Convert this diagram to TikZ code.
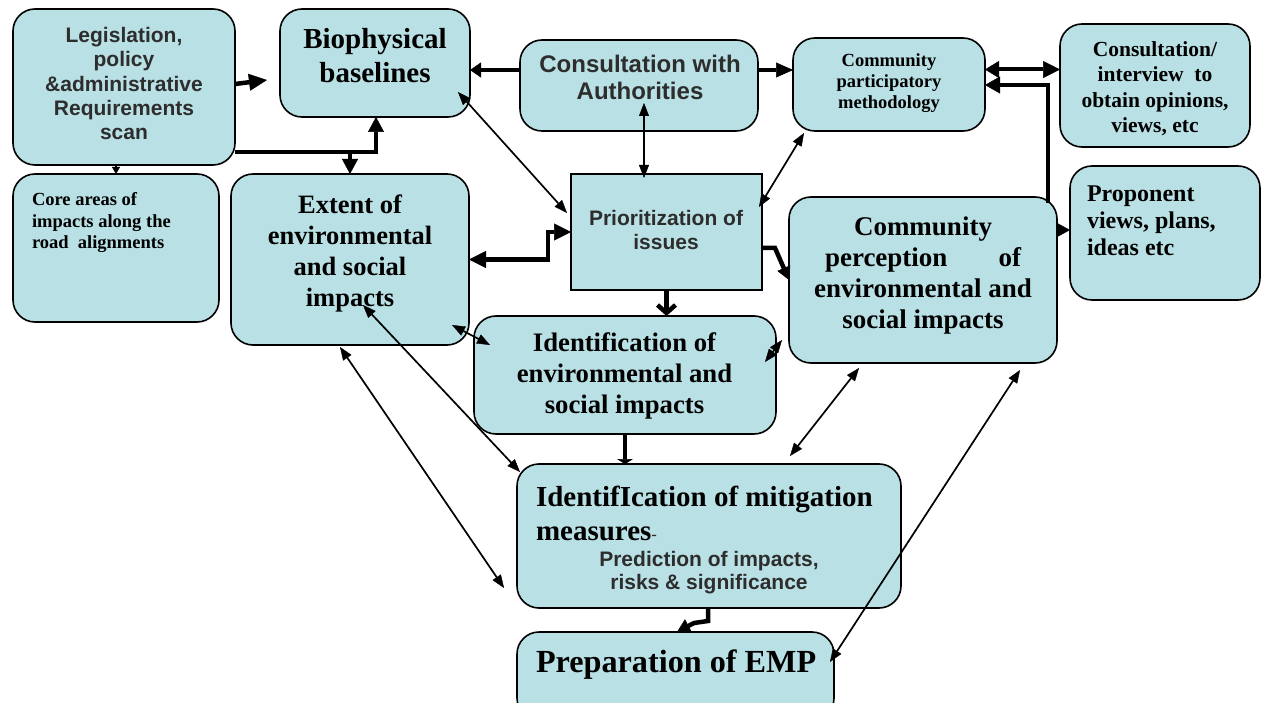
\documentclass[tikz,border=0pt]{standalone}
\usepackage{fontspec}
\setmainfont{Liberation Serif}
\setsansfont{Liberation Sans}
\usetikzlibrary{arrows.meta,calc}
\definecolor{boxc}{RGB}{185,224,228}
\definecolor{sanstext}{RGB}{45,45,45}
\newcommand{\fsz}[2]{\fontsize{#1}{#2}\selectfont}
\tikzset{
  SmT/.tip={Triangle[length=13pt,width=10pt,line width=0.4pt]},
}
\begin{document}
\begin{tikzpicture}[x=1pt,y=-1pt,
  box/.style={draw=black,line width=1.6pt,fill=boxc,rounded corners=22pt,inner sep=0pt,outer sep=0pt},
  sqbox/.style={draw=black,line width=1.6pt,fill=boxc,inner sep=0pt,outer sep=0pt},
  txt/.style={inner sep=0pt,outer sep=0pt,align=center,execute at begin node=\strut},
  ltxt/.style={txt,align=left},
  fat/.style={line width=4.5pt,draw=black},
  lnk/.style={line width=1.7pt,draw=black,arrows={SmT-SmT}}
]
\useasboundingbox (0,0) rectangle (1261,703);
\clip (0,0) rectangle (1261,703);
% boxes
\node[box,minimum width=222pt,minimum height=156pt] (leg) at (124,87) {};
\node[box,minimum width=190pt,minimum height=108pt] (bio) at (375,63) {};
\node[box,minimum width=238pt,minimum height=91pt] (cwa) at (639,85.5) {};
\node[box,minimum width=192pt,minimum height=93pt] (cpm) at (889,84.5) {};
\node[box,minimum width=190pt,minimum height=123pt] (civ) at (1155,85.5) {};
\node[box,minimum width=206pt,minimum height=148pt] (core) at (116,248) {};
\node[box,minimum width=238pt,minimum height=171pt] (ext) at (350,259.5) {};
\node[sqbox,minimum width=191pt,minimum height=116pt] (pri) at (666.5,232) {};
\node[box,minimum width=190pt,minimum height=134pt] (prop) at (1165,233) {};
\node[box,minimum width=268pt,minimum height=166pt] (cpe) at (923,280) {};
\node[box,minimum width=302pt,minimum height=118pt] (ies) at (625,375) {};
\node[box,minimum width=384pt,minimum height=144pt] (mit) at (709,536) {};
\node[box,minimum width=317pt,minimum height=88pt] (emp) at (675.5,676) {};
% texts
\node[txt,font=\sffamily\bfseries\fsz{21}{24.3},text=sanstext,anchor=north] (legT) at (124,27.2) {Legislation,\\policy\\\&administrative\\Requirements\\scan};
\node[txt,font=\bfseries\fsz{29}{34},anchor=north] (bioT) at (375,28.2) {Biophysical\\baselines};
\node[txt,font=\sffamily\bfseries\fsz{24}{27},text=sanstext,anchor=north] (cwaT) at (640,55) {Consultation with\\Authorities};
\node[txt,font=\bfseries\fsz{18.5}{21},anchor=north] (cpmT) at (889,53.8) {Community\\participatory\\methodology};
\node[txt,font=\bfseries\fsz{21.5}{25.5},anchor=north] (civT) at (1155,41.3) {Consultation/\\interview\ \ to\\obtain opinions,\\views, etc};
\node[ltxt,font=\bfseries\fsz{18.5}{21.5},anchor=north west] (coreT) at (32,192.5) {Core areas of\\impacts along the\\road\ \ alignments};
\node[txt,font=\bfseries\fsz{26.5}{31},anchor=north] (extT) at (350,195.3) {Extent of\\environmental\\and social\\impacts};
\node[txt,font=\sffamily\bfseries\fsz{21}{23.5},text=sanstext,anchor=north] (priT) at (666,210.5) {Prioritization of\\issues};
\node[ltxt,font=\bfseries\fsz{24}{27},anchor=north west] (propT) at (1087,185.5) {Proponent\\views, plans,\\ideas etc};
\node[txt,font=\bfseries\fsz{27}{31},anchor=north] (cpeT) at (923,216.3) {Community\\\makebox[196pt][s]{perception\hfill of}\\environmental and\\social impacts};
\node[txt,font=\bfseries\fsz{26.7}{31},anchor=north] (iesT) at (624.5,332.3) {Identification of\\environmental and\\social impacts};
\node[ltxt,font=\bfseries\fsz{29}{34},anchor=north west] (mitT) at (536,486.2) {IdentifIcation of mitigation\\measures{\sffamily\mdseries\fsz{17}{20}\color{sanstext}-}};
\node[txt,font=\sffamily\bfseries\fsz{21}{23},text=sanstext,anchor=north] (mitP) at (709,550.9) {Prediction of impacts,\\risks \& significance};
\node[inner sep=0pt,outer sep=0pt,font=\bfseries\fsz{32.2}{36},anchor=base west] (empT) at (536,672) {Preparation of EMP};
% thick connectors
\draw[fat,-{Triangle[length=18pt,width=17pt,line width=0.5pt]}] ($(leg.east)+(0,-3)$) -- ($(bio.west)+(-13,17)$);
\draw[fat,-{Triangle[length=15pt,width=16pt,line width=0.5pt]}] ($(leg.east)+(0,65)$) -- ($(bio.south)+(1,35)$) -- ($(bio.south)+(1,0)$);
\draw[fat,-{Triangle[length=15pt,width=16pt,line width=0.5pt]}] ($(ext.north)+(0,-24)$) -- (ext.north);
\draw[line width=1.5pt,-{Triangle[length=7pt,width=8pt,line width=0.4pt]}] (core.north |- leg.south) -- (core.north);
\draw[fat,-{Triangle[length=11pt,width=15pt,line width=0.5pt]}] ($(cwa.west)+(0,-15.5)$) -- ($(bio.east)+(0,7)$);
\draw[fat,-{Triangle[length=17pt,width=15pt,line width=0.5pt]}] ($(cwa.east)+(0,-15.5)$) -- ($(cpm.west)+(0,-14.5)$);
\draw[line width=4pt,{Triangle[length=14pt,width=17pt,line width=0.5pt]}-{Triangle[length=17pt,width=17pt,line width=0.5pt]}] ($(cpm.east)+(0,-15)$) -- ($(civ.west)+(0,-16)$);
\draw[fat,-{Triangle[length=15pt,width=17pt,line width=0.5pt]}] ($(cpe.north east)+(-9,6)$) -- ($(cpe.north east)+(-9,-112)$) -- ($(cpm.east)+(0,0.5)$);
\draw[line width=1.5pt,-{Triangle[length=12pt,width=13pt,line width=0.4pt]}] ($(cpe.east)+(0,-50)$) -- ($(prop.west)+(0,-3)$);
\coordinate (pk) at ($(pri.west)+(-23,0)$);
\draw[fat,{Triangle[length=17pt,width=17pt,line width=0.5pt]}-{Triangle[length=17pt,width=17pt,line width=0.5pt]}] (ext.east) -- (ext.east -| pk) -- (pk) -- (pri.west);
\draw[fat,-{Triangle[length=13pt,width=14pt,line width=0.5pt]}] ($(pri.east)+(0,16)$) -- ($(pri.east)+(13,16)$) -- (cpe.west);
\draw[fat,-{Straight Barb[length=8pt,width=18pt]}] (pri.south) -- (pri.south |- ies.north);
\draw[fat,-{Triangle[length=5pt,width=16pt,line width=0.5pt]}] (ies.south) -- (ies.south |- mit.north);
\draw[fat,-{Triangle[length=13pt,width=15pt,line width=0.5pt]}] ($(mit.south)+(-1,0)$) -- ($(mit.south)+(-1,13)$) -- ($(mit.south)+(-15,15)$) -- ($(emp.north)+(1.5,0)$);
% thin double connectors
\draw[lnk] ($(cwa.south)+(5,-28)$) -- ($(pri.north)+(-22.5,4)$);
\draw[lnk] ($(bio.south east)+(-12,-25)$) -- ($(pri.west)+(-4,-19)$);
\draw[lnk] ($(cpm.south west)+(11,2)$) -- ($(pri.east)+(-3,-25)$);
\draw[lnk] ($(ext.south east)+(-17,-20)$) -- ($(ies.north west)+(16,29)$);
\draw[lnk] ($(ext.center)+(13,45.5)$) -- ($(mit.north west)+(3,8)$);
\draw[lnk] ($(ext.south)+(-10,2)$) -- ($(mit.west)+(-13,52)$);
\draw[lnk] ($(ies.east)+(-11,-13)$) -- ($(ies.east)+(6,-35)$);
\draw[lnk] ($(cpe.south west)+(70,5)$) -- ($(mit.north east)+(-111,-8)$);
\draw[lnk] ($(cpe.south east)+(-37,7)$) -- ($(emp.east)+(-4,-14)$);
\end{tikzpicture}
\end{document}
